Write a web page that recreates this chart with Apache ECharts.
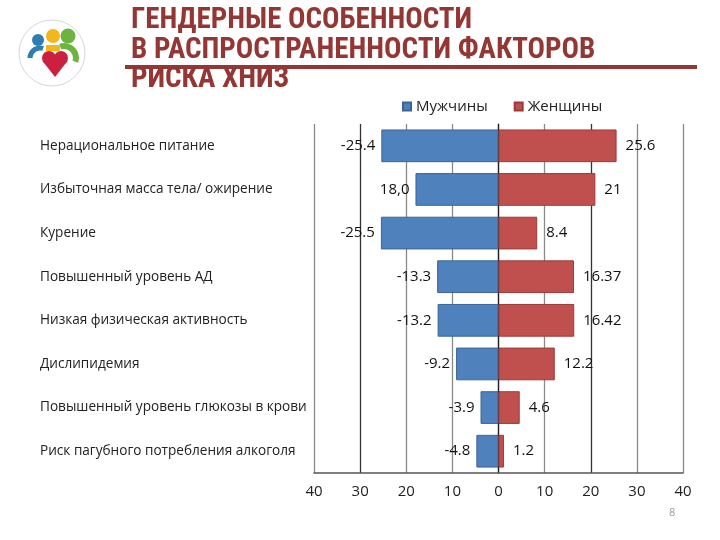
<!DOCTYPE html>
<html>
<head>
<meta charset="utf-8">
<script src="https://cdn.jsdelivr.net/npm/echarts@6/dist/echarts.min.js"></script>
<style>
  html, body { margin: 0; padding: 0; background: #ffffff; }
  #chart { width: 720px; height: 540px; }
</style>
</head>
<body>
<div id="chart"></div>
<script>
// категории (сверху вниз)
const categories = [
  "Нерациональное питание",
  "Избыточная масса тела/ ожирение",
  "Курение",
  "Повышенный уровень АД",
  "Низкая физическая активность",
  "Дислипидемия",
  "Повышенный уровень глюкозы в крови",
  "Риск пагубного потребления алкоголя"
];
const men = [-25.4, -18.0, -25.5, -13.3, -13.2, -9.2, -3.9, -4.8];
const women = [25.6, 21, 8.4, 16.37, 16.42, 12.2, 4.6, 1.2];
// подписи как на слайде
const menLabels = ["-25.4", "18,0", "-25.5", "-13.3", "-13.2", "-9.2", "-3.9", "-4.8"];
const womenLabels = ["25.6", "21", "8.4", "16.37", "16.42", "12.2", "4.6", "1.2"];
const xTicks = [-40, -30, -20, -10, 0, 10, 20, 30, 40];

const titleColor = "#943634";
const labelFont = "'Open Sans', 'Noto Sans', sans-serif";

let myChart = echarts.init(document.getElementById("chart"));

let options = {
  backgroundColor: "#ffffff",
  animation: false,
  title: {
    text: "ГЕНДЕРНЫЕ ОСОБЕННОСТИ\nВ РАСПРОСТРАНЕННОСТИ ФАКТОРОВ\nРИСКА ХНИЗ",
    left: 126,
    top: 1,
    textStyle: {
      color: titleColor,
      fontFamily: "'Liberation Sans Narrow', 'Roboto Condensed', 'Liberation Sans', sans-serif",
      fontWeight: "bold",
      fontSize: 29,
      lineHeight: 29.5
    }
  },
  legend: {
    top: 94,
    left: 397,
    itemWidth: 8,
    itemHeight: 8,
    itemGap: 26,
    icon: "rect",
    textStyle: { fontFamily: labelFont, fontSize: 15, color: "#222" },
    data: ["Мужчины", "Женщины"]
  },
  grid: { left: 314, right: 37, top: 124, bottom: 67 },
  xAxis: {
    type: "value",
    min: xTicks[0],
    max: xTicks[xTicks.length - 1],
    interval: 10,
    axisLine: { show: true, lineStyle: { color: "#555", width: 1.5 } },
    axisTick: { show: false },
    axisLabel: {
      color: "#222",
      fontFamily: labelFont,
      fontSize: 15,
      margin: 11,
      formatter: function (v) { return Math.abs(v); }
    },
    splitLine: {
      show: true,
      showMinLine: true,
      showMaxLine: true,
      lineStyle: {
        width: 1.3,
        // -40 .. 40
        color: ["#8a8a8a", "#333", "#8a8a8a", "#8a8a8a", "#333", "#8a8a8a", "#333", "#8a8a8a", "#8a8a8a"]
      }
    }
  },
  yAxis: {
    type: "category",
    inverse: true,
    data: categories,
    axisLine: { show: true, lineStyle: { color: "#222", width: 1.2 } },
    axisTick: { show: false },
    axisLabel: {
      align: "left",
      margin: 274,
      color: "#222",
      fontFamily: labelFont,
      fontSize: 13.6
    }
  },
  series: [
    {
      name: "Мужчины",
      type: "bar",
      stack: "total",
      barWidth: "75%",
      data: men,
      itemStyle: { color: "#4f81bd", borderColor: "#3b6597", borderWidth: 1 },
      label: {
        show: true,
        position: "left",
        distance: 6,
        color: "#111",
        fontFamily: labelFont,
        fontSize: 15,
        formatter: function (p) { return menLabels[p.dataIndex]; }
      }
    },
    {
      name: "Женщины",
      type: "bar",
      stack: "total",
      barWidth: "75%",
      data: women,
      itemStyle: { color: "#c0504d", borderColor: "#9b3b39", borderWidth: 1 },
      label: {
        show: true,
        position: "right",
        distance: 9,
        color: "#111",
        fontFamily: labelFont,
        fontSize: 15,
        formatter: function (p) { return womenLabels[p.dataIndex]; }
      }
    }
  ],
  graphic: [
    // полоса под заголовком
    { type: "rect", shape: { x: 125, y: 65, width: 572, height: 4 }, style: { fill: titleColor }, z: 100 },
    // логотип
    { type: "circle", shape: { cx: 52, cy: 53, r: 33 }, style: { fill: "#fff", stroke: "#bbb", lineWidth: 0.6 } },
    { type: "arc", shape: { cx: 40, cy: 58, r: 10, startAngle: Math.PI, endAngle: Math.PI * 1.6 }, style: { stroke: "#2c7fae", lineWidth: 5, fill: null } },
    { type: "arc", shape: { cx: 64, cy: 58, r: 12, startAngle: Math.PI * 1.4, endAngle: Math.PI * 2.1 }, style: { stroke: "#6cb33f", lineWidth: 6, fill: null } },
    { type: "rect", shape: { x: 46, y: 45, width: 14, height: 6 }, style: { fill: "#f2b71c" } },
    { type: "circle", shape: { cx: 38, cy: 40, r: 6 }, style: { fill: "#2c7fae" } },
    { type: "circle", shape: { cx: 53, cy: 36, r: 7 }, style: { fill: "#f2b71c" } },
    { type: "circle", shape: { cx: 68, cy: 36, r: 7.5 }, style: { fill: "#6cb33f" } },
    // сердце
    { type: "circle", shape: { cx: 49, cy: 58, r: 7 }, style: { fill: "#cc2040" } },
    { type: "circle", shape: { cx: 61, cy: 58, r: 7 }, style: { fill: "#cc2040" } },
    { type: "polygon", shape: { points: [[42.5, 61], [67.5, 61], [55, 77]] }, style: { fill: "#cc2040" } },
    // номер слайда
    { type: "text", left: 669, top: 507, style: { text: "8", fill: "#999", font: "11px 'Open Sans', sans-serif" } }
  ]
};

myChart.setOption(options);
</script>
</body>
</html>
